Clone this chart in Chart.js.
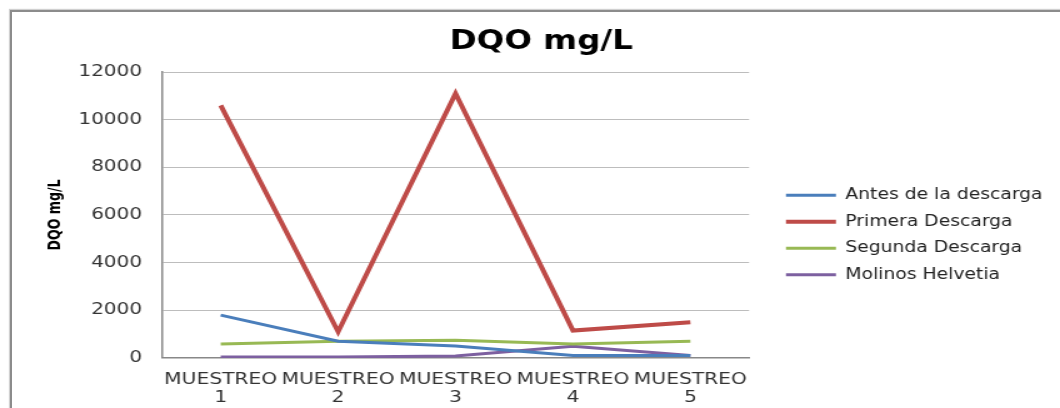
<!DOCTYPE html>
<html>
<head>
<meta charset="utf-8">
<script src="https://cdn.jsdelivr.net/npm/chart.js@4/dist/chart.umd.min.js"></script>
<style>
body{margin:0;background:#fff;width:1060px;height:408px;overflow:hidden;position:relative;}
#marco{position:absolute;left:10px;top:10px;width:1100px;height:450px;border-left:2px solid #8c8c8c;border-top:2px solid #8c8c8c;box-shadow:-1px -1px 1px #d0d0d0;}
#caja{position:absolute;left:0;top:0;width:848px;height:408px;transform:scaleX(1.25);transform-origin:0 0;}
</style>
</head>
<body>
<div id="marco"></div>
<div id="caja"><canvas id="grafico" width="848" height="408"></canvas></div>
<script>
const muestreos = [['MUESTREO','1'],['MUESTREO','2'],['MUESTREO','3'],['MUESTREO','4'],['MUESTREO','5']];
const antes = [1800, 700, 500, 100, 100];
const primera = [10600, 1100, 11100, 1150, 1500];
const segunda = [590, 700, 740, 590, 700];
const molinos = [40, 40, 80, 490, 100];
const ticksY = [0, 2000, 4000, 6000, 8000, 10000, 12000];

const fuente = 'DejaVu Sans';

function serie(nombre, valores, color, grosor){
    return {label:nombre, data:valores, borderColor:color, backgroundColor:color,
        borderWidth:grosor, pointRadius:0, tension:0, fill:false};
}

// el titulo del original esta un poco a la derecha del centro
const correrTitulo = {id:'correrTitulo', afterLayout(c){ if(c.titleBlock) c.titleBlock.left += 18; }};

new Chart(document.getElementById('grafico'), {
    type:'line',
    data:{
        labels:muestreos,
        datasets:[
            serie('Antes de la descarga', antes, '#4a7ebb', 3),
            serie('Primera Descarga', primera, '#be4b48', 4),
            serie('Segunda Descarga', segunda, '#98b954', 3),
            serie('Molinos Helvetia', molinos, '#7d60a0', 3)
        ]
    },
    options:{
        responsive:false,
        animation:false,
        layout:{padding:{left:4, top:0, right:4, bottom:0}},
        plugins:{
            title:{display:true, text:'DQO mg/L', color:'#000',
                font:{family:fuente, size:26, weight:'bold'}, padding:{top:26.4, bottom:14.4}},
            legend:{position:'right', align:'start', maxWidth:400,
                title:{display:true, text:'', font:{size:12}, padding:{top:161.8, bottom:0}},
                labels:{usePointStyle:true, pointStyle:'line', pointStyleWidth:40,
                    padding:11.5, color:'#222', font:{family:fuente, size:15}}},
            tooltip:{enabled:false}
        },
        scales:{
            x:{offset:true, grid:{display:false, drawTicks:true, tickLength:11.9},
                border:{display:true, color:'#888', width:1.5},
                ticks:{color:'#333', font:{family:fuente, size:16.2, lineHeight:1.1},
                    padding:1.24, maxRotation:0, minRotation:0, autoSkip:false}},
            y:{min:0, max:12000,
                afterBuildTicks:s=>{s.ticks = ticksY.map(v=>({value:v}));},
                grid:{color:'#bdbdbd', drawTicks:true, tickLength:11, tickColor:'rgba(0,0,0,0)'},
                border:{display:true, color:'#888', width:1.5},
                ticks:{color:'#333', font:{family:fuente, size:16}, padding:5,
                    callback:v=>String(v)},
                title:{display:true, text:'DQO mg/L', color:'#000',
                    font:{family:'DejaVu Sans Condensed', size:14, weight:'bold'},
                    padding:{top:31.6, bottom:5.3}}},
            hueco:{type:'linear', position:'right', display:true,
                grid:{display:false}, border:{display:false}, ticks:{display:false},
                afterFit:s=>{s.width = 18;}}
        }
    },
    plugins:[correrTitulo]
});
</script>
</body>
</html>
